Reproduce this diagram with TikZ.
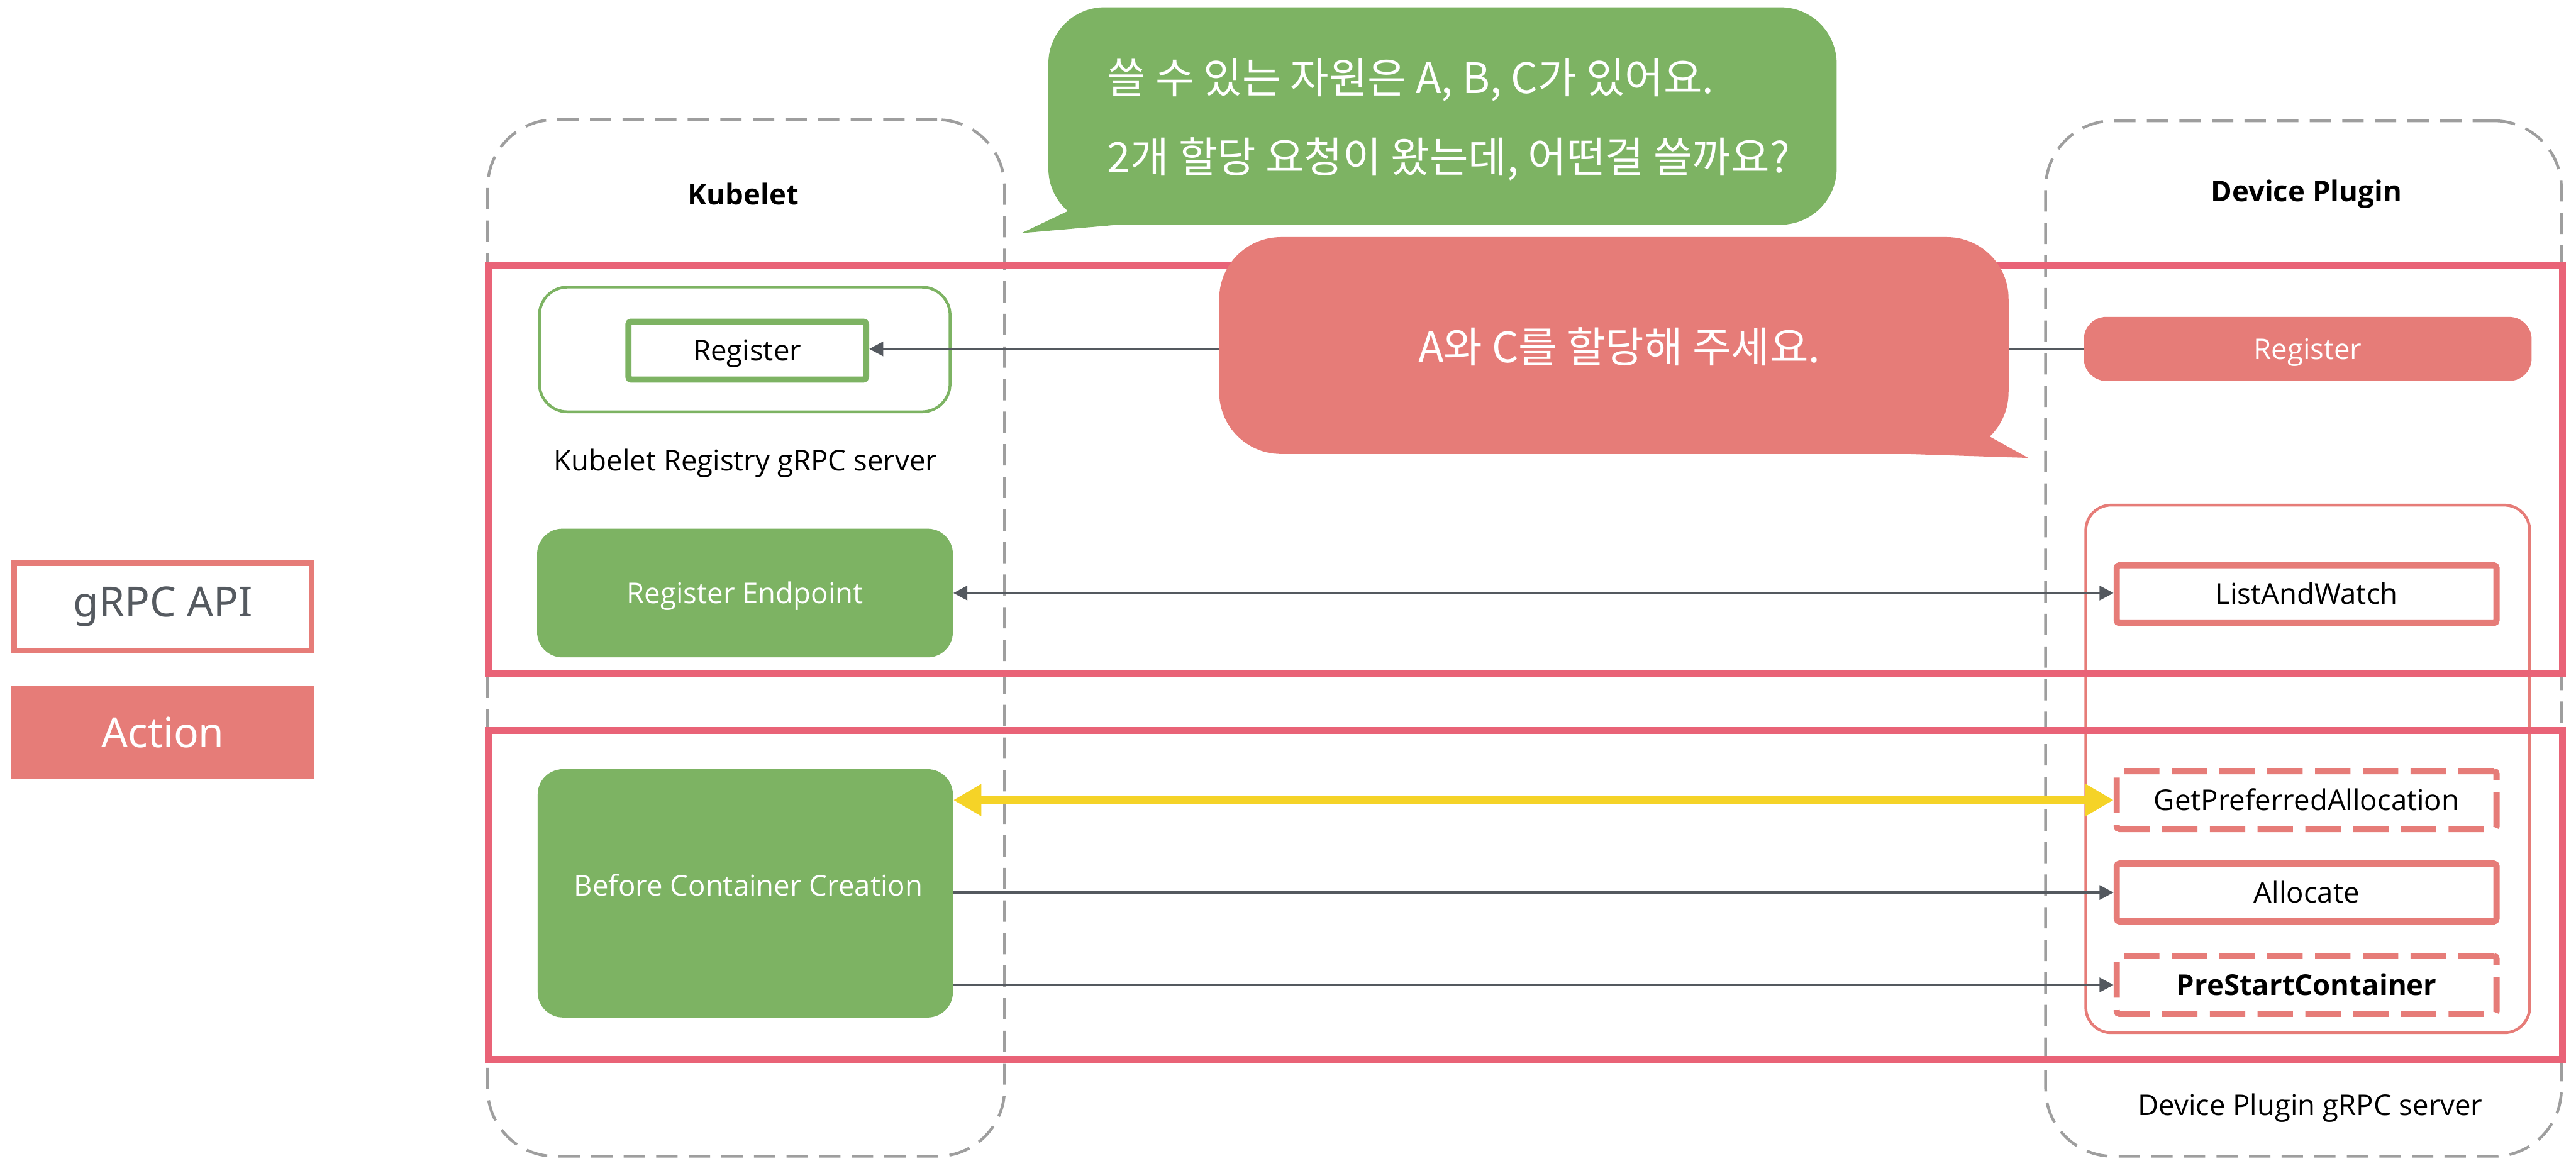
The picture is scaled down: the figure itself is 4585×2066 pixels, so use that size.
\documentclass[tikz,border=0pt]{standalone}
\usepackage{fontspec}
\setmainfont{Open Sans}
\newfontfamily\krfont{Noto Sans CJK KR}
\newfontfamily\legfont{Noto Sans}
\usetikzlibrary{arrows.meta}
\definecolor{secred}{HTML}{E96377}
\definecolor{salmon}{HTML}{E67C78}
\definecolor{kgreen}{HTML}{7DB363}
\definecolor{dashgray}{HTML}{9E9E9E}
\definecolor{arrowgray}{HTML}{54595F}
\definecolor{callyellow}{HTML}{F5D327}
\definecolor{legtext}{HTML}{555A60}
\begin{document}
\begin{tikzpicture}[x=0.1mm, y=-0.1mm,
  lbl/.style={font=\fontsize{14.5}{17}\selectfont, text=black},
  boxtext/.style={text height=3.64mm, text depth=0pt},
  titletext/.style={font=\fontsize{14.5}{17}\selectfont\bfseries, text=black},
  container/.style={draw=dashgray, line width=0.5mm, dash pattern=on 3.8mm off 2mm, rounded corners=12mm},
  section/.style={draw=secred, line width=1.2mm},
  gfill/.style={fill=kgreen, rounded corners=4.5mm, lbl, text=white, boxtext},
  apibox/.style={draw=salmon, line width=1.1mm, fill=white, rounded corners=0.5mm, lbl, boxtext,
    minimum width=67.6mm, minimum height=10.3mm},
  apidashed/.style={dash pattern=on 6.3mm off 2.2mm},
  garrow/.style={draw=arrowgray, line width=0.5mm, -{Triangle[length=2.5mm,width=2.5mm]}},
  gdarrow/.style={draw=arrowgray, line width=0.5mm, {Triangle[length=2.5mm,width=2.5mm]}-{Triangle[length=2.5mm,width=2.5mm]}},
  yarrow/.style={draw=callyellow, line width=1.6mm, {Triangle[length=5mm,width=5.4mm]}-{Triangle[length=5mm,width=5.4mm]}},
  legendtext/.style={font=\legfont\fontsize{21}{25}\selectfont},
  bubbletext/.style={font=\krfont\fontsize{21.3}{25}\selectfont, text=white, inner sep=0pt}
]
\useasboundingbox (0,0) rectangle (4585,2066);

% legend
\node[draw=salmon, line width=1mm, minimum width=53mm, minimum height=15.6mm, text=legtext, legendtext] (legapi) at (290,1080) {gRPC API};
\node[fill=salmon, minimum width=54mm, minimum height=16.6mm, text=white, legendtext] (legact) at (290,1304) {Action};

% dashed containers
\node[container, minimum width=92mm, minimum height=184.5mm] (kube) at (1328,1135.5) {};
\node[container, minimum width=91.8mm, minimum height=184.3mm] (dp) at (4100,1136.5) {};
\node[titletext] (kubetitle) at (1323,345) {Kubelet};
\node[titletext] (dptitle) at (4105,345) {Device Plugin};

% device plugin gRPC server outline
\node[draw=salmon, line width=0.5mm, rounded corners=4.5mm, minimum width=79mm, minimum height=93.9mm] (dpsrv) at (4107.5,1368.5) {};
\node[lbl, anchor=base] (dpsrvlbl) at (4112,1985) {Device Plugin gRPC server};

% sections
\node[section, minimum width=369.2mm, minimum height=72.7mm] (sec1) at (2715,835.5) {};
\node[section, minimum width=369.2mm, minimum height=58.6mm] (sec2) at (2715,1593) {};

% kubelet registry server
\node[draw=kgreen, line width=0.5mm, rounded corners=5mm, minimum width=73.1mm, minimum height=22.2mm] (kreg) at (1325.5,622) {};
\node[draw=kgreen, line width=1.1mm, fill=white, rounded corners=0.5mm, minimum width=42.3mm, minimum height=10.3mm, lbl, boxtext] (kregapi) at (1330,624) {Register};
\node[lbl, anchor=base] (kreglbl) at (1327,838) {Kubelet Registry gRPC server};

% kubelet actions
\node[gfill, minimum width=74mm, minimum height=22.9mm] (rep) at (1326,1055.5) {Register Endpoint};
\node[gfill, minimum width=73.9mm, minimum height=44.2mm] (bcc) at (1326.5,1590) {};
\node[lbl, text=white, anchor=base] (bcclbl) at (1332,1594) {Before Container Creation};

% device plugin side
\node[fill=salmon, rounded corners=4mm, lbl, boxtext, text=white, minimum width=79.7mm, minimum height=11.4mm] (dpreg) at (4107.5,621) {Register};
\node[apibox] (law) at (4105.5,1057.5) {ListAndWatch};
\node[apibox, apidashed] (gpa) at (4105.5,1424) {GetPreferredAllocation};
\node[apibox] (alloc) at (4105.5,1588.5) {Allocate};
\node[apibox, apidashed, font=\fontsize{14.5}{17}\selectfont\bfseries] (psc) at (4105.5,1753) {PreStartContainer};

% connectors
\draw[garrow] (dpreg.west) -- (dpreg.west -| kregapi.east);
\draw[gdarrow] (rep.east) -- (rep.east -| law.west);
\draw[yarrow] (bcc.east |- gpa.west) -- (gpa.west);
\draw[garrow] (bcc.east |- alloc.west) -- (alloc.west);
\draw[garrow] (bcc.east |- psc.west) -- (psc.west);

% speech bubbles
\fill[kgreen, rounded corners=10mm] (1866,13) rectangle (3269,400);
\fill[kgreen] (1940,357) -- (1818,415) -- (1990,400) -- (1990,357) -- cycle;
\node[bubbletext, anchor=west] (q1) at (1970,142) {쓸 수 있는 자원은 A, B, C가 있어요.};
\node[bubbletext, anchor=west] (q2) at (1970,283) {2개 할당 요청이 왔는데, 어떤걸 쓸까요?};

\fill[salmon, rounded corners=11mm] (2170,422) rectangle (3575,808);
\fill[salmon] (3500,754) -- (3610,815) -- (3395,808) -- (3395,754) -- cycle;
\node[bubbletext] (a1) at (2882,617) {A와 C를 할당해 주세요.};
\end{tikzpicture}
\end{document}
